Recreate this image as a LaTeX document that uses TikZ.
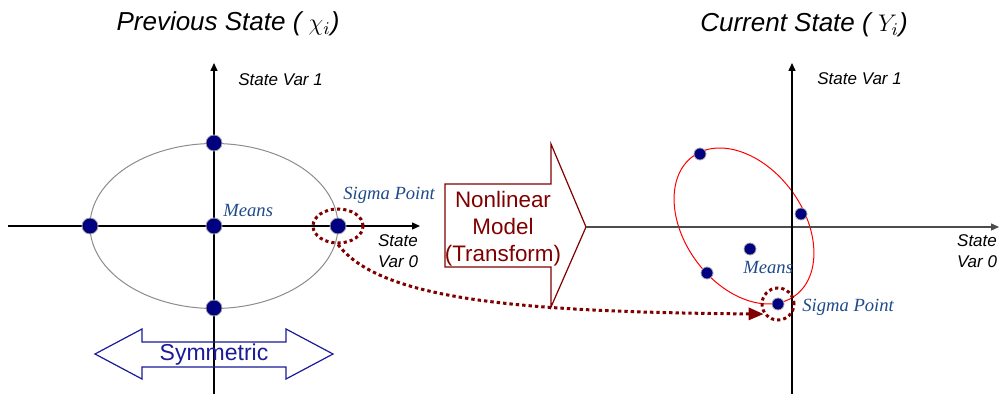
\documentclass[tikz,border=0pt]{standalone}
\usepackage{fontspec}
\usepackage{xcolor}
\usepackage{tikz}
\usetikzlibrary{arrows.meta,shapes.geometric}
\newfontfamily\arialfont{Liberation Sans}
\newfontfamily\timesfont{Liberation Serif}
\definecolor{navydot}{HTML}{000080}
\definecolor{labelblue}{HTML}{1F4A8A}
\definecolor{modelred}{HTML}{800000}
\definecolor{symblue}{HTML}{1A1A9A}
\tikzset{
  axisline/.style={line width=0.7pt,-{Triangle[length=4pt,width=3.5pt]}},
  bigdot/.style={circle,fill=navydot,draw=gray!70,line width=0.4pt,inner sep=0pt,minimum size=8pt},
  smalldot/.style={bigdot,minimum size=6pt},
  varlabel/.style={font=\arialfont\itshape\fontsize{8.5pt}{10.5pt}\selectfont,inner sep=0pt},
  bluelabel/.style={font=\timesfont\itshape\fontsize{9.3pt}{11pt}\selectfont,text=labelblue,inner sep=0pt},
  titlelabel/.style={font=\arialfont\itshape\fontsize{13pt}{15pt}\selectfont,inner sep=0pt},
  ring/.style={draw=modelred,line width=1.5pt,dash pattern=on 1.6pt off 1.5pt,inner sep=0pt},
  sigmapath/.style={draw=modelred,line width=1.5pt,dash pattern=on 1.7pt off 1.5pt,-{Triangle[length=7.5pt,width=6pt]}}
}
\begin{document}
\begin{tikzpicture}[x=0.5pt,y=-0.5pt]
  \useasboundingbox (0,0) rectangle (1001,394);
  % previous state
  \coordinate (oL) at (214,226);
  \coordinate (xLs) at (8,226);
  \coordinate (xLe) at (420,226);
  \coordinate (yLs) at (214,394);
  \coordinate (yLe) at (214,63);
  \draw[gray!90,line width=0.5pt] (oL) ellipse [x radius=62pt,y radius=41.25pt];
  \draw[axisline] (xLs) -- (xLe);
  \draw[axisline] (yLs) -- (yLe);
  \node[bigdot] (pL0) at (214,226) {};
  \node[bigdot] (pL1) at (338,226) {};
  \node[bigdot] (pL2) at (90,226) {};
  \node[bigdot] (pL3) at (214,143) {};
  \node[bigdot] (pL4) at (214,308) {};
  \node[ring,ellipse,minimum width=25pt,minimum height=17pt] (ringL) at (338,226) {};
  \node[titlelabel,anchor=base] (titleL) at (228,31) {Previous State ( $\chi_i$)};
  \node[varlabel,anchor=base west] (v1L) at (238,86) {State Var 1};
  \node[varlabel,align=center] (v0L) at (398,251) {State\\Var 0};
  \node[bluelabel,anchor=base west] (meanL) at (223,217) {Means};
  \node[bluelabel,anchor=base west] (sigL) at (343,200) {Sigma Point};
  \draw[symblue,line width=0.6pt] (95,354) -- (142,329) -- (142,342) -- (286,342) -- (286,329)
    -- (333,354) -- (286,379) -- (286,367) -- (142,367) -- (142,379) -- cycle;
  \node[font=\arialfont\fontsize{11.5pt}{13pt}\selectfont,text=symblue,inner sep=0pt] (sym) at (214,355) {Symmetric};
  % transform
  \draw[modelred,line width=0.6pt] (445,184) -- (551,184) -- (551,144) -- (586,227) -- (551,307)
    -- (551,267) -- (445,267) -- cycle;
  \node[font=\arialfont\fontsize{11.2pt}{13.5pt}\selectfont,text=modelred,align=center,inner sep=0pt] (model) at (503,229) {Nonlinear\\Model\\(Transform)};
  % current state
  \coordinate (oR) at (792,227);
  \coordinate (xRs) at (586,227);
  \coordinate (xRe) at (999,227);
  \coordinate (yRs) at (792,394);
  \coordinate (yRe) at (792,63);
  \coordinate (cR) at (744,226);
  \draw[red,line width=0.5pt,rotate around={-53.7:(cR)}] (cR) ellipse [x radius=43.2pt,y radius=29.6pt];
  \draw[axisline,draw=black!70] (xRs) -- (xRe);
  \draw[axisline] (yRs) -- (yRe);
  \node[smalldot] (pR0) at (750,249) {};
  \node[smalldot] (pR1) at (778,304) {};
  \node[smalldot] (pR2) at (700,154) {};
  \node[smalldot] (pR3) at (801,214) {};
  \node[smalldot] (pR4) at (707,273) {};
  \node[ring,circle,minimum size=16pt] (ringR) at (778,304) {};
  \node[titlelabel,anchor=base] (titleR) at (804,32) {Current State ( $Y_i$)};
  \node[varlabel,anchor=base west] (v1R) at (817,85) {State Var 1};
  \node[varlabel,align=center] (v0R) at (977,251) {State\\Var 0};
  \node[bluelabel,anchor=base west] (meanR) at (743,274) {Means};
  \node[bluelabel,anchor=base west] (sigR) at (802,312) {Sigma Point};
  \draw[sigmapath] (ringL.south) .. controls (380,300) and (520,312) .. (ringR.215);
\end{tikzpicture}
\end{document}
